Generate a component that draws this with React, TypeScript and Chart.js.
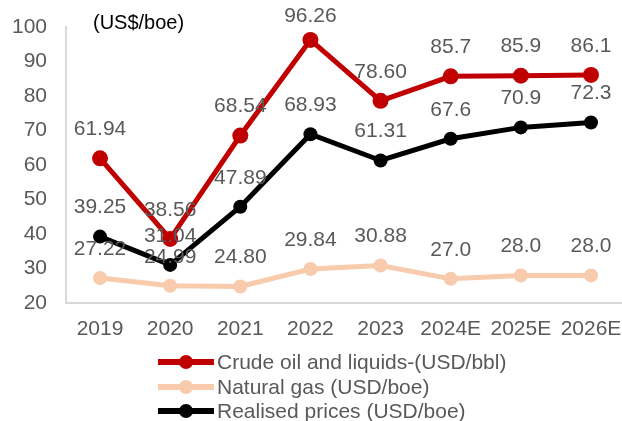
import React, { useEffect, useRef } from "react";
import { Chart, registerables } from "chart.js";

Chart.register(...registerables);

const categories = ["2019", "2020", "2021", "2022", "2023", "2024E", "2025E", "2026E"];
const crudeOil = [61.94, 38.56, 68.54, 96.26, 78.6, 85.7, 85.9, 86.1];
const crudeOilLabels = ["61.94", "38.56", "68.54", "96.26", "78.60", "85.7", "85.9", "86.1"];
const naturalGas = [27.22, 24.99, 24.8, 29.84, 30.88, 27.0, 28.0, 28.0];
const naturalGasLabels = ["27.22", "24.99", "24.80", "29.84", "30.88", "27.0", "28.0", "28.0"];
const realised = [39.25, 31.04, 47.89, 68.93, 61.31, 67.6, 70.9, 72.3];
const realisedLabels = ["39.25", "31.04", "47.89", "68.93", "61.31", "67.6", "70.9", "72.3"];
const seriesNames = [
  "Crude oil and liquids-(USD/bbl)",
  "Natural gas (USD/boe)",
  "Realised prices (USD/boe)",
];
const yTicks = [20, 30, 40, 50, 60, 70, 80, 90, 100];

const RED = "#C00000";
const PEACH = "#F8CBAD";
const BLACK = "#000000";
const GRAY_TEXT = "#595959";
const AXIS = "#D9D9D9";
const FONT = "'Liberation Sans', Arial, sans-serif";

const colors = [RED, PEACH, BLACK];
const labelSets = [crudeOilLabels, naturalGasLabels, realisedLabels];

const dataLabelPlugin = {
  id: "dataLabels",
  afterDatasetsDraw(chart: any) {
    const ctx = chart.ctx;
    ctx.save();
    ctx.font = `21px ${FONT}`;
    ctx.fillStyle = GRAY_TEXT;
    ctx.textAlign = "center";
    ctx.textBaseline = "middle";
    chart.data.datasets.forEach((_: any, i: number) => {
      const meta = chart.getDatasetMeta(i);
      meta.data.forEach((pt: any, j: number) => {
        ctx.fillText(labelSets[i][j], pt.x, Math.max(pt.y - 29, 16));
      });
    });
    ctx.restore();
  },
};

export default function App() {
  const canvasRef = useRef<HTMLCanvasElement | null>(null);

  useEffect(() => {
    if (!canvasRef.current) return;
    const mk = (arr: number[]) => arr.map((y, i) => ({ x: i, y }));
    const chart = new Chart(canvasRef.current, {
      type: "line",
      data: {
        datasets: [
          {
            label: seriesNames[0],
            data: mk(crudeOil),
            borderColor: RED,
            backgroundColor: RED,
            borderWidth: 5,
            pointRadius: 8,
            pointHoverRadius: 8,
            pointBorderWidth: 0,
            clip: false,
            order: 2,
          },
          {
            label: seriesNames[1],
            data: mk(naturalGas),
            borderColor: PEACH,
            backgroundColor: PEACH,
            borderWidth: 5,
            pointRadius: 7,
            pointHoverRadius: 7,
            pointBorderWidth: 0,
            clip: false,
            order: 3,
          },
          {
            label: seriesNames[2],
            data: mk(realised),
            borderColor: BLACK,
            backgroundColor: BLACK,
            borderWidth: 5,
            pointRadius: 7,
            pointHoverRadius: 7,
            pointBorderWidth: 0,
            clip: false,
            order: 1,
          },
        ],
      },
      options: {
        responsive: false,
        animation: false,
        layout: { autoPadding: false, padding: { top: 27, right: 0, bottom: 0, left: 0 } },
        plugins: {
          legend: { display: false },
          tooltip: { enabled: false },
        },
        scales: {
          x: {
            type: "linear",
            min: -0.485,
            max: 7.442,
            grid: { display: false, drawTicks: false },
            border: { display: true, color: AXIS, width: 2 },
            afterBuildTicks: (scale: any) => {
              scale.ticks = categories.map((_, i) => ({ value: i }));
            },
            afterFit: (scale: any) => {
              scale.height = 118;
              scale.paddingLeft = 0;
              scale.paddingRight = 0;
            },
            ticks: {
              autoSkip: false,
              maxRotation: 0,
              color: GRAY_TEXT,
              font: { family: FONT, size: 21 },
              padding: 14,
              callback: (v: any) => categories[v] ?? "",
            },
          },
          y: {
            min: 20,
            max: 100,
            grid: { display: false, drawTicks: false },
            border: { display: true, color: AXIS, width: 2 },
            afterBuildTicks: (scale: any) => {
              scale.ticks = yTicks.map((v) => ({ value: v }));
            },
            afterFit: (scale: any) => {
              scale.width = 66;
              scale.paddingTop = 0;
              scale.paddingBottom = 0;
            },
            ticks: {
              color: GRAY_TEXT,
              font: { family: FONT, size: 21 },
              padding: 19,
            },
          },
        },
      },
      plugins: [dataLabelPlugin],
    });
    return () => chart.destroy();
  }, []);

  return (
    <div
      style={{
        position: "fixed",
        left: 0,
        top: 0,
        width: 622,
        height: 421,
        background: "#fff",
        overflow: "hidden",
        fontFamily: FONT,
      }}
    >
      <canvas ref={canvasRef} width={622} height={421} style={{ display: "block" }} />
      <div
        style={{
          position: "absolute",
          left: 93,
          top: 10,
          fontSize: 20,
          lineHeight: "24px",
          color: "#000",
          whiteSpace: "nowrap",
        }}
      >
        (US$/boe)
      </div>
      <div style={{ position: "absolute", left: 158, top: 350 }}>
        {seriesNames.map((name, i) => (
          <div
            key={name}
            style={{
              display: "flex",
              alignItems: "center",
              height: 24.5,
              whiteSpace: "nowrap",
            }}
          >
            <svg width={56} height={20} style={{ display: "block" }}>
              <line x1={1} y1={10} x2={55} y2={10} stroke={colors[i]} strokeWidth={6} strokeLinecap="round" />
              <circle cx={28} cy={10} r={7} fill={colors[i]} />
            </svg>
            <span style={{ marginLeft: 3, fontSize: 21, color: GRAY_TEXT, lineHeight: "24px" }}>{name}</span>
          </div>
        ))}
      </div>
    </div>
  );
}
